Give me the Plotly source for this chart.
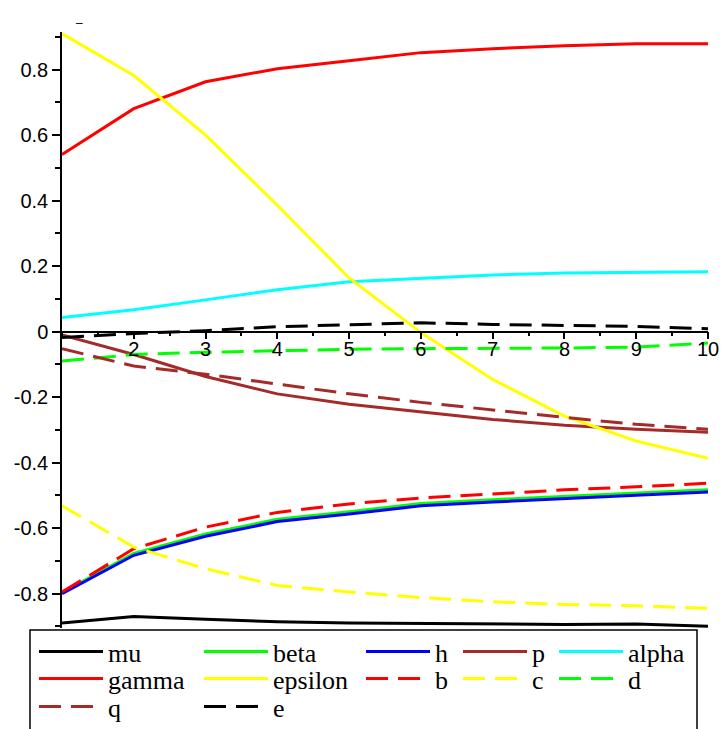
import plotly.graph_objects as go

X = [1, 2, 3, 4, 5, 6, 7, 8, 9, 10]

mu      = [-0.890, -0.870, -0.878, -0.886, -0.890, -0.892, -0.893, -0.894, -0.893, -0.900]
beta    = [-0.797, -0.677, -0.618, -0.573, -0.550, -0.525, -0.513, -0.503, -0.493, -0.483]
h       = [-0.800, -0.683, -0.625, -0.580, -0.557, -0.532, -0.520, -0.511, -0.500, -0.490]
p       = [-0.010, -0.070, -0.137, -0.190, -0.222, -0.245, -0.268, -0.286, -0.298, -0.307]
alpha   = [0.043, 0.067, 0.097, 0.128, 0.152, 0.162, 0.173, 0.179, 0.182, 0.183]
gamma   = [0.541, 0.681, 0.763, 0.803, 0.827, 0.852, 0.864, 0.873, 0.879, 0.879]
epsilon = [0.910, 0.782, 0.600, 0.386, 0.164, -0.003, -0.146, -0.258, -0.334, -0.387]
b       = [-0.795, -0.663, -0.597, -0.552, -0.526, -0.508, -0.496, -0.483, -0.474, -0.463]
c       = [-0.532, -0.658, -0.724, -0.775, -0.795, -0.812, -0.825, -0.833, -0.837, -0.845]
d       = [-0.090, -0.070, -0.063, -0.058, -0.054, -0.052, -0.052, -0.050, -0.047, -0.035]
q       = [-0.052, -0.105, -0.130, -0.160, -0.190, -0.216, -0.240, -0.262, -0.283, -0.298]
e       = [-0.018, -0.006, 0.003, 0.015, 0.021, 0.027, 0.022, 0.020, 0.016, 0.009]

X_TICKS = [2, 3, 4, 5, 6, 7, 8, 9, 10]
Y_TICKS = [-0.8, -0.6, -0.4, -0.2, 0, 0.2, 0.4, 0.6, 0.8]
Y_TICK_TEXT = ["-0.8", "-0.6", "-0.4", "-0.2", "0", "0.2", "0.4", "0.6", "0.8"]

BROWN = "#A52A2A"
DASH = "22px,10px"

# name, values, colour, dash, legend column, legend row
series = [
    ("mu", mu, "black", "solid", 0, 0),
    ("beta", beta, "#00FF00", "solid", 1, 0),
    ("h", h, "#0000FF", "solid", 2, 0),
    ("p", p, BROWN, "solid", 3, 0),
    ("alpha", alpha, "#00FFFF", "solid", 4, 0),
    ("gamma", gamma, "#FF0000", "solid", 0, 1),
    ("epsilon", epsilon, "#FFFF00", "solid", 1, 1),
    ("b", b, "#FF0000", DASH, 2, 1),
    ("c", c, "#FFFF00", DASH, 3, 1),
    ("d", d, "#00FF00", DASH, 4, 1),
    ("q", q, BROWN, DASH, 0, 2),
    ("e", e, "black", DASH, 1, 2),
]

W, H = 721, 729
L, R, T, B = 62, 13, 32, 101
pw, ph = W - L - R, H - T - B
YMIN, YMAX = -0.905, 0.915

def px2x(px):
    return (px - L) / pw

def py2y(py):
    return (H - B - py) / ph

legfont = dict(family="Liberation Serif", size=26, color="black")
col_px = [40, 205, 367, 464, 560]
row_px = [655, 682, 710]

fig = go.Figure()
legends = {}
for i, (name, ys, col, dash, lc, lr) in enumerate(series):
    lname = "legend" if i == 0 else "legend%d" % (i + 1)
    fig.add_trace(go.Scatter(x=X, y=ys, mode="lines", name=name,
                             line=dict(color=col, width=3, dash=dash),
                             legend=lname))
    legends[lname] = dict(x=px2x(col_px[lc] - 6), y=py2y(row_px[lr] - 27),
                          xanchor="left", yanchor="top", orientation="v",
                          font=legfont, bgcolor="rgba(0,0,0,0)", borderwidth=0,
                          itemwidth=64)

fig.update_layout(
    width=W, height=H,
    margin=dict(l=L, r=R, t=T, b=B, autoexpand=False),
    paper_bgcolor="white", plot_bgcolor="white",
    showlegend=True,
    font=dict(family="Liberation Sans", size=20, color="black"),
    xaxis=dict(range=[1, 10], anchor="free", position=(0 - YMIN) / (YMAX - YMIN),
               showline=True, linecolor="black", linewidth=1.5,
               showgrid=False, zeroline=False,
               tickmode="array", tickvals=X_TICKS, ticktext=[str(v) for v in X_TICKS],
               ticks="outside", ticklen=7, tickwidth=1.5, tickcolor="black",
               ticklabelstandoff=-7,
               minor=dict(dtick=0.5, tick0=1, ticks="outside", ticklen=4,
                          tickwidth=1.5, tickcolor="black"),
               tickfont=dict(family="Liberation Sans", size=20)),
    yaxis=dict(range=[YMIN, YMAX], showline=True, linecolor="black", linewidth=1.5,
               showgrid=False, zeroline=False,
               tickmode="array", tickvals=Y_TICKS, ticktext=Y_TICK_TEXT,
               ticks="outside", ticklen=8, tickwidth=1.5, tickcolor="black",
               minor=dict(dtick=0.1, tick0=0, ticks="outside", ticklen=5,
                          tickwidth=1.5, tickcolor="black"),
               tickfont=dict(family="Liberation Sans", size=20)),
    shapes=[dict(type="rect", xref="paper", yref="paper",
                 x0=px2x(30), x1=px2x(697), y0=py2y(760), y1=py2y(630),
                 line=dict(color="black", width=1.5), fillcolor="rgba(0,0,0,0)",
                 layer="above")],
    annotations=[dict(text="–", xref="paper", yref="paper", x=px2x(74), y=py2y(14),
                      showarrow=False, font=dict(size=12, color="black"))],
    **legends,
)

fig.write_html("out.html", config={"displayModeBar": False},
               post_script="document.body.style.margin='0';document.body.style.overflow='hidden';")
